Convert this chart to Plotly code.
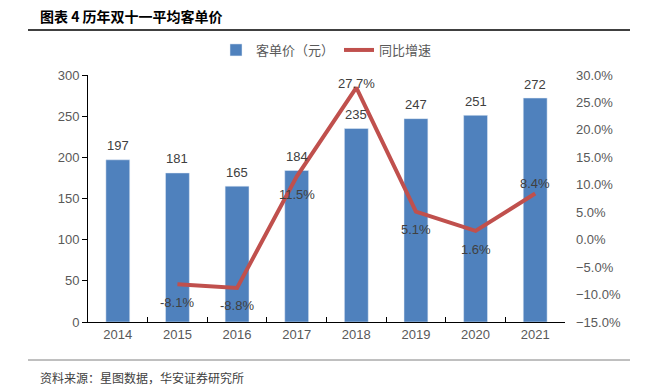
import plotly.graph_objects as go

years = ["2014", "2015", "2016", "2017", "2018", "2019", "2020", "2021"]
price = [197, 181, 165, 184, 235, 247, 251, 272]
growth_years = ["2015", "2016", "2017", "2018", "2019", "2020", "2021"]
growth = [-8.1, -8.8, 11.5, 27.7, 5.1, 1.6, 8.4]
growth_label_shift = [-18, -18, -18, 4, -18, -19, 10]

FONT = "Liberation Sans, Arial, Noto Sans CJK SC"
CJK = "Noto Sans CJK SC"

fig = go.Figure()
fig.add_trace(go.Bar(
    x=years, y=price, name="客单价（元）",
    marker=dict(color="#4F81BD"), width=0.4,
))
fig.add_trace(go.Scatter(
    x=growth_years, y=growth, name="同比增速", yaxis="y2",
    mode="lines", line=dict(color="#C0504D", width=4),
    cliponaxis=False,
))

# category index of each label (annotations on category axes take the index)
for xv, yv in zip(years, price):
    fig.add_annotation(x=years.index(xv), y=yv, xref="x", yref="y", text=str(yv),
                       showarrow=False, yshift=14, yanchor="middle",
                       font=dict(family=FONT, size=13, color="#404040"))
for xv, yv, sh in zip(growth_years, growth, growth_label_shift):
    fig.add_annotation(x=years.index(xv), y=yv, xref="x", yref="y2", text=f"{yv:.1f}%",
                       showarrow=False, yshift=sh, yanchor="middle",
                       font=dict(family=FONT, size=13, color="#404040"))

fig.update_layout(
    width=648, height=390,
    margin=dict(l=88, r=83, t=75, b=68, autoexpand=False),
    paper_bgcolor="white", plot_bgcolor="white",
    font=dict(family=FONT, size=13, color="#595959"),
    showlegend=True,
    legend=dict(orientation="h", x=0.5, xanchor="center", y=1 + 25/247, yanchor="middle",
                font=dict(family=CJK, size=13, color="#595959"),
                itemwidth=30),
    xaxis=dict(type="category", categoryorder="array", categoryarray=years,
               showline=True, linecolor="#000000", linewidth=1,
               ticks="inside", tickson="boundaries", ticklen=5, tickcolor="#000000",
               showgrid=False, tickfont=dict(size=13, color="#595959")),
    yaxis=dict(range=[0, 300], dtick=50, showline=True, linecolor="#000000", linewidth=1,
               ticks="outside", ticklen=5, tickcolor="#000000", showgrid=False,
               zeroline=False, tickfont=dict(size=13, color="#595959")),
    yaxis2=dict(range=[-15, 30], dtick=5, overlaying="y", side="right",
                showline=False, showgrid=False, zeroline=False,
                tickformat=".1f", ticksuffix="%", ticklabelstandoff=10,
                tickfont=dict(size=13, color="#595959")),
    bargap=0.6,
)

fig.add_annotation(text="<b>图表 4 历年双十一平均客单价</b>", xref="paper", yref="paper",
                   x=-88/477 + 38/477, y=1.0, yshift=75 - 16, xanchor="left", yanchor="middle",
                   showarrow=False, font=dict(family=CJK, size=14, color="#000000"))
fig.add_annotation(text="资料来源：星图数据，华安证券研究所", xref="paper", yref="paper",
                   x=-88/477 + 38/477, y=0, yshift=-(377 - 322), xanchor="left", yanchor="middle",
                   showarrow=False, font=dict(family=CJK, size=12, color="#404040"))
fig.add_shape(type="line", xref="paper", yref="paper",
              x0=-60/477, x1=(630 - 88)/477, y0=1 + (75 - 30)/247, y1=1 + (75 - 30)/247,
              line=dict(color="#000000", width=1.5))
fig.add_shape(type="line", xref="paper", yref="paper",
              x0=-60/477, x1=(630 - 88)/477, y0=-(360 - 322)/247, y1=-(360 - 322)/247,
              line=dict(color="#808080", width=1))

fig.write_html("out.html", config={"displayModeBar": False},
               post_script="document.body.style.margin='0';")
